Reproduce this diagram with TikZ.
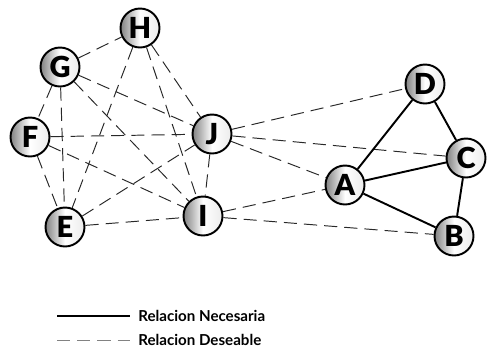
\documentclass[tikz,border=0pt]{standalone}
\usepackage{fontspec}
\setmainfont{Lato}
\newfontfamily\negra{Lato Black}
\usepackage{tikz}
\usetikzlibrary{positioning}
\definecolor{grisbola}{RGB}{130,130,130}
\definecolor{grislinea}{RGB}{40,40,40}

\begin{document}
\begin{tikzpicture}[x=0.02cm,y=-0.02cm,
nodo/.style={circle,draw=black,line width=1.1pt,minimum size=0.78cm,inner sep=0pt,
  left color=grisbola,right color=white!85!gray,middle color=white,
  font=\fontsize{16.5}{16}\negra},
necesaria/.style={line width=1.1pt},
deseable/.style={line width=0.55pt,draw=grislinea,dash pattern=on 7.5pt off 4pt},
leyenda/.style={font=\fontsize{8.6}{9}\selectfont\bfseries,anchor=west,inner sep=0pt}
]
\useasboundingbox (0,0) rectangle (497,359);

% grupo izquierdo
\node[nodo] (H) at (140,28) {H};
\node[nodo] (G) at (60,67) {G};
\node[nodo] (F) at (30,137) {F};
\node[nodo] (J) at (212,134) {J};
\node[nodo] (E) at (65,227) {E};
\node[nodo] (I) at (203,216) {I};
% grupo derecho
\node[nodo] (D) at (425,84) {D};
\node[nodo] (C) at (466,158) {C};
\node[nodo] (A) at (345,185) {A};
\node[nodo] (B) at (454,236) {B};

\foreach \u/\v in {G/H,H/E,H/I,H/J,G/F,G/E,G/J,G/I,F/J,F/I,F/E,E/J,E/I,J/I,J/D,J/C,J/A,I/A,I/B}
  \draw[deseable] (\u) -- (\v);
\foreach \u/\v in {A/D,D/C,A/C,A/B,C/B}
  \draw[necesaria] (\u) -- (\v);

% leyenda
\coordinate (n1) at (57,316);
\coordinate (n2) at (130,316);
\coordinate (d1) at (57,340);
\coordinate (d2) at (130,340);
\draw[necesaria] (n1) -- (n2);
\draw[deseable,draw=grisbola] (d1) -- (d2);
\node[leyenda,right=8 of n2] {Relacion Necesaria};
\node[leyenda,right=8 of d2] {Relacion Deseable};
\end{tikzpicture}
\end{document}
